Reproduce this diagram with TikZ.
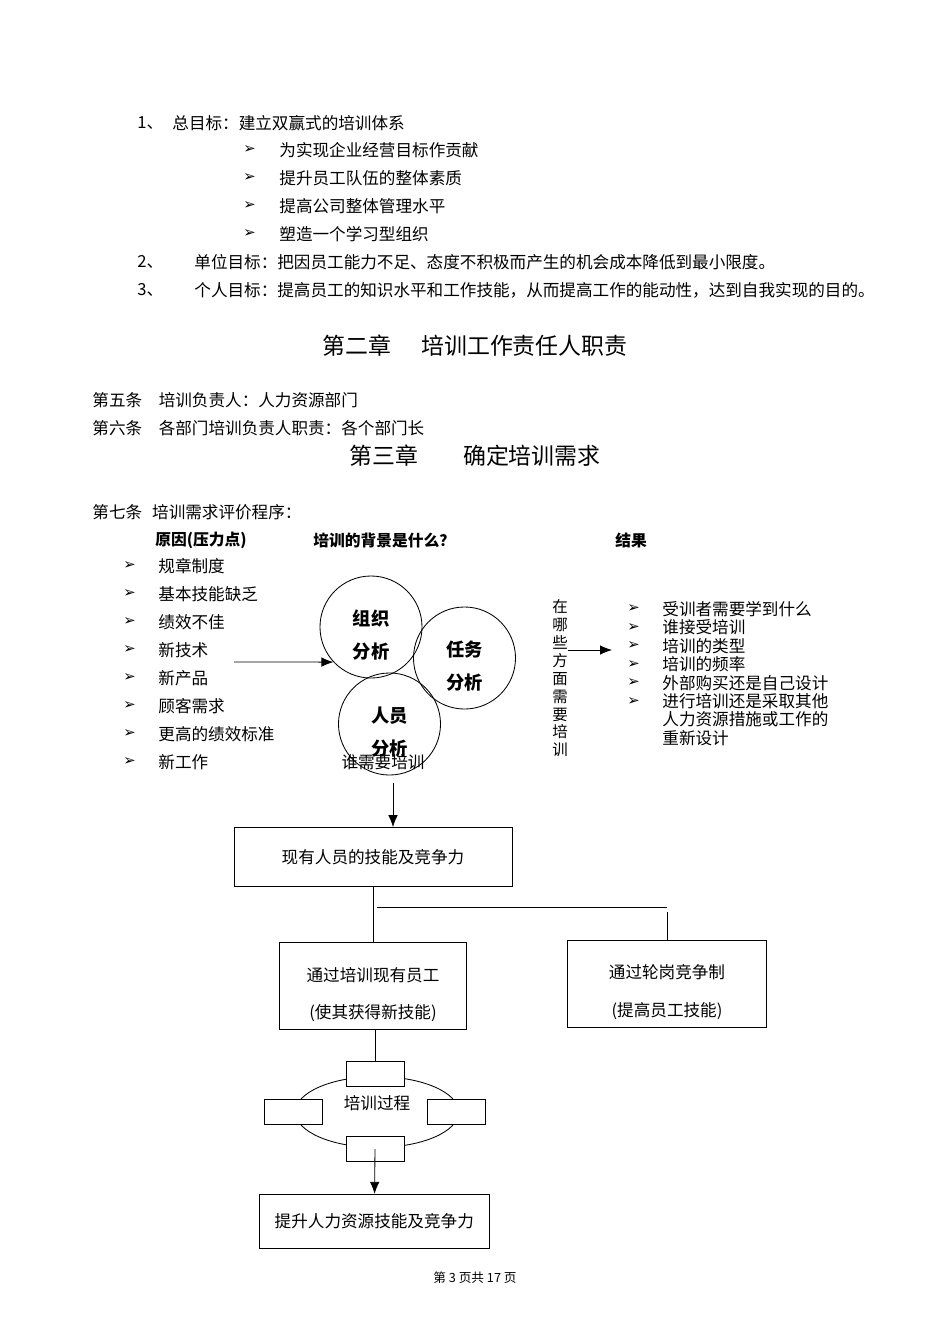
\documentclass[tikz,border=0pt]{standalone}
\usepackage{fontspec}
\setmainfont{Noto Sans CJK SC}
\newfontfamily\bulletfont{DejaVu Sans}
\usepackage{tikz}
\usetikzlibrary{shapes,arrows.meta}
\newcommand{\bodysize}{\fontsize{11.8pt}{14pt}\selectfont}
\tikzstyle{txt} = [anchor=west, inner sep=0pt, font=\bodysize]
\tikzstyle{bul} = [anchor=west, inner sep=0pt, font=\bulletfont\fontsize{10.5pt}{12pt}\selectfont]
\tikzstyle{title} = [inner sep=0pt, font=\fontsize{16.3pt}{18pt}\selectfont]
\tikzstyle{head} = [anchor=west, inner sep=0pt, font=\bfseries\fontsize{11.2pt}{13pt}\selectfont]
\tikzstyle{circ} = [draw, circle, minimum size=2.55cm, inner sep=0pt, align=center, font=\bfseries\fontsize{13pt}{23.4pt}\selectfont]
\tikzstyle{block} = [draw, rectangle, align=center, font=\fontsize{11.8pt}{27pt}\selectfont]
\tikzstyle{stage} = [draw, rectangle, fill=white, minimum width=1.45cm, minimum height=0.625cm]
\tikzstyle{res} = [anchor=west, inner sep=0pt, align=left, font=\fontsize{11.8pt}{13.1pt}\selectfont]
% pushes a two-line label a little lower in its shape
\newcommand{\pushdown}[1]{\rule{0pt}{#1}}

\begin{document}
\begin{tikzpicture}[x=0.025cm, y=-0.025cm, line width=0.6pt, >={Latex[length=0.3cm,width=0.24cm]}]
    \useasboundingbox (0,0) rectangle (950,1344);
    % Goals
    \node [txt] (n1) at (137,123) {1、};
    \node [txt] (goal) at (172,123) {总目标：建立双赢式的培训体系};
    \node [bul] (g1b) at (243,150) {➢};
    \node [txt] (g1) at (279,150) {为实现企业经营目标作贡献};
    \node [bul] (g2b) at (243,178) {➢};
    \node [txt] (g2) at (279,178) {提升员工队伍的整体素质};
    \node [bul] (g3b) at (243,206) {➢};
    \node [txt] (g3) at (279,206) {提高公司整体管理水平};
    \node [bul] (g4b) at (243,234) {➢};
    \node [txt] (g4) at (279,234) {塑造一个学习型组织};
    \node [txt] (n2) at (137,262) {2、};
    \node [txt] (unit) at (194,262) {单位目标：把因员工能力不足、态度不积极而产生的机会成本降低到最小限度。};
    \node [txt] (n3) at (137,290) {3、};
    \node [txt] (self) at (194,290) {个人目标：提高员工的知识水平和工作技能，从而提高工作的能动性，达到自我实现的目的。};
    % Chapters
    \node [title] (ch2) at (475,346) {第二章\hspace{0.75cm}培训工作责任人职责};
    \node [txt] (art5) at (92,400) {第五条　培训负责人：人力资源部门};
    \node [txt] (art6) at (92,428) {第六条　各部门培训负责人职责：各个部门长};
    \node [title] (ch3) at (475,456) {第三章\hspace{1.125cm}确定培训需求};
    \node [txt] (art7) at (92,512) {第七条\hspace{0.25cm}培训需求评价程序：};
    % Headings
    \node [head] (cause) at (155,540) {原因(压力点)};
    \node [head] (why) at (313,540) {培训的背景是什么？};
    \node [head] (outcome) at (615,540) {结果};
    % Pressure points
    \node [bul] (c1b) at (123,566) {➢};
    \node [txt] (c1) at (158,566) {规章制度};
    \node [bul] (c2b) at (123,594) {➢};
    \node [txt] (c2) at (158,594) {基本技能缺乏};
    \node [bul] (c3b) at (123,622) {➢};
    \node [txt] (c3) at (158,622) {绩效不佳};
    \node [bul] (c4b) at (123,650) {➢};
    \node [txt] (c4) at (158,650) {新技术};
    \node [bul] (c5b) at (123,678) {➢};
    \node [txt] (c5) at (158,678) {新产品};
    \node [bul] (c6b) at (123,706) {➢};
    \node [txt] (c6) at (158,706) {顾客需求};
    \node [bul] (c7b) at (123,734) {➢};
    \node [txt] (c7) at (158,734) {更高的绩效标准};
    \node [bul] (c8b) at (123,762) {➢};
    \node [txt] (c8) at (158,762) {新工作};
    % Analysis circles
    \coordinate (cstart) at (234,662);
    \node [circ] (org) at (371,627) {\pushdown{0.78cm}组织\\分析};
    \node [circ] (task) at (464.5,658) {\pushdown{0.78cm}任务\\分析};
    \node [circ] (staff) at (389.5,724) {\pushdown{0.78cm}人员\\分析};
    \node [txt, anchor=center] (who) at (383,762) {谁需要培训};
    \node [inner sep=0pt, align=center, font=\fontsize{11pt}{12.7pt}\selectfont] (where) at (560,678.5) {在\\哪\\些\\方\\面\\需\\要\\培\\训};
    \coordinate (rend) at (612,650);
    % Results
    \node [bul] (r1b) at (627,609) {➢};
    \node [res] (r1) at (662,609) {受训者需要学到什么};
    \node [bul] (r2b) at (627,627.5) {➢};
    \node [res] (r2) at (662,627.5) {谁接受培训};
    \node [bul] (r3b) at (627,646) {➢};
    \node [res] (r3) at (662,646) {培训的类型};
    \node [bul] (r4b) at (627,664.5) {➢};
    \node [res] (r4) at (662,664.5) {培训的频率};
    \node [bul] (r5b) at (627,683) {➢};
    \node [res] (r5) at (662,683) {外部购买还是自己设计};
    \node [bul] (r6b) at (627,701.5) {➢};
    \node [res, anchor=north west] (r6) at (662,693) {进行培训还是采取其他\\人力资源措施或工作的\\重新设计};
    % Flow boxes
    \node [block, minimum width=6.95cm, minimum height=1.475cm] (skills) at (373,857) {现有人员的技能及竞争力};
    \node [block, minimum width=4.685cm, minimum height=2.175cm] (train) at (373,986) {\pushdown{0.78cm}通过培训现有员工\\(使其获得新技能)};
    \node [block, minimum width=4.97cm, minimum height=2.175cm] (rotate) at (667,984) {\pushdown{0.76cm}通过轮岗竞争制\\(提高员工技能)};
    \node [draw, ellipse, minimum width=4.08cm, minimum height=1.77cm, inner sep=0pt] (cycle) at (377,1112) {};
    \node [txt, anchor=center] (cyclename) at (377,1103) {培训过程};
    \node [stage] (p1) at (375,1074) {};
    \node [stage] (p2) at (293.3,1112) {};
    \node [stage] (p3) at (456.2,1112) {};
    \node [stage] (p4) at (375,1149) {};
    \node [block, minimum width=5.75cm, minimum height=1.35cm] (raise) at (374.3,1221.3) {提升人力资源技能及竞争力};
    \node [inner sep=0pt, font=\fontsize{9pt}{10pt}\selectfont] (page) at (475,1278) {第 3 页共 17 页};
    % Connect the nodes
    \draw [->] (cstart) -- (org.223);
    \draw [->] (where.east |- rend) -- (rend);
    \coordinate (wdown) at (393,783);
    \draw [->] (wdown) -- (wdown |- skills.north);
    \draw (skills) -- (train);
    \coordinate (branch) at (377,907);
    \draw (branch) -- (branch -| rotate.north);
    \draw ([yshift=-0.125cm]branch -| rotate.north) -- (rotate.north);
    \draw (p1.north |- train.south) -- (p1.north);
    \draw [->] (p4.center) -- (raise);
\end{tikzpicture}
\end{document}
